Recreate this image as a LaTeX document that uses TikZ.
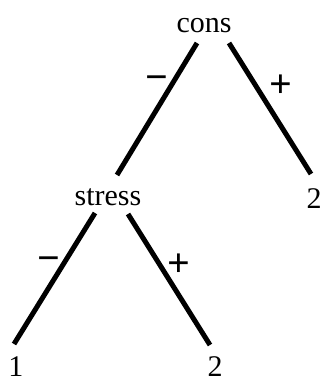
\documentclass[tikz,border=0pt]{standalone}
\usepackage{fontspec}
\setmainfont{Liberation Serif}
\begin{document}
\begin{tikzpicture}[x=1pt,y=-1pt,
  lbl/.style={anchor=base,inner sep=0pt,font=\fontsize{30}{30}\selectfont},
  sgn/.style={inner sep=0pt,font=\fontsize{40}{40}\selectfont\bfseries},
  edge/.style={line width=5pt}]
\useasboundingbox (0,0) rectangle (323,382);
\node[lbl] (cons) at (204,33) {cons};
\node[lbl] (stress) at (108,205) {stress};
\node[lbl] (r2) at (314,208) {2};
\node[lbl] (l1) at (16,376) {1};
\node[lbl] (b2) at (215,376) {2};
% edge end points
\coordinate (c1) at (197,43); \coordinate (c2) at (117,175);
\coordinate (c3) at (229,43); \coordinate (c4) at (311,174);
\coordinate (s1) at (95,213); \coordinate (s2) at (14,344);
\coordinate (s3) at (128,214); \coordinate (s4) at (210,345);
\draw[edge] (c1) -- (c2);
\draw[edge] (c3) -- (c4);
\draw[edge] (s1) -- (s2);
\draw[edge] (s3) -- (s4);
\node[sgn] (m1) at (157,83) {−};
\node[sgn] (p1) at (281,86) {+};
\node[sgn] (m2) at (49,264) {−};
\node[sgn] (p2) at (179,265) {+};
\end{tikzpicture}
\end{document}
